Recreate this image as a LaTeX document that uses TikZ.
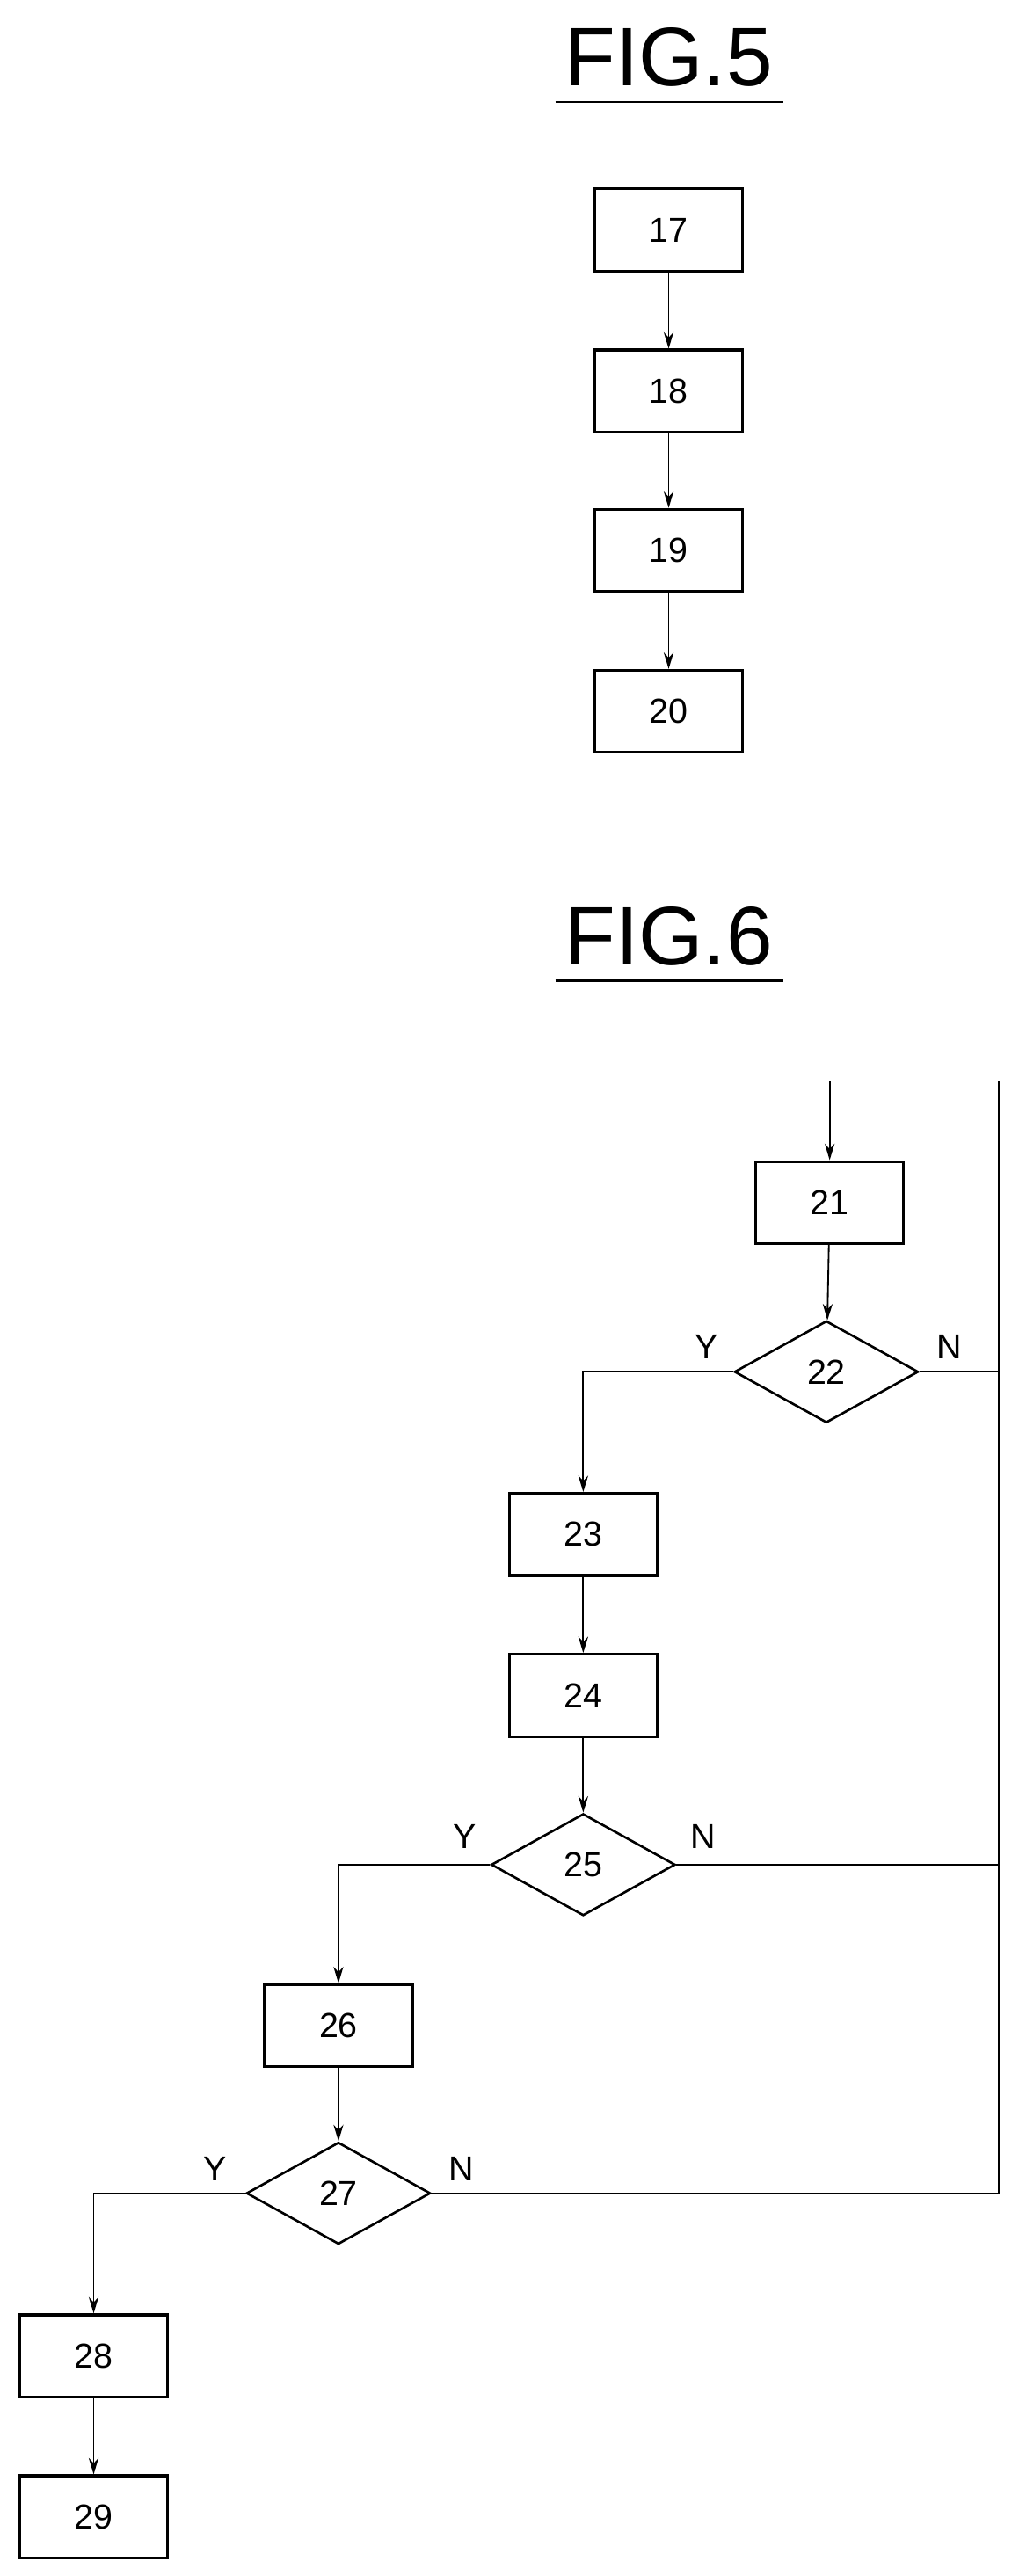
\documentclass[tikz,border=0pt]{standalone}
\usepackage{fontspec}
\setmainfont{Liberation Sans}
\usetikzlibrary{shapes.geometric,positioning,arrows.meta}

\tikzset{
	stepbox/.style={draw, line width=2.4pt, minimum width=4.5cm, minimum height=2.5cm, inner sep=0pt, font=\fontsize{30}{30}\selectfont},
	test/.style={draw, diamond, line width=2pt, aspect=1.8, minimum width=5.6cm, minimum height=3.1cm, inner sep=0pt, font=\fontsize{30}{30}\selectfont},
	link/.style={line width=1.4pt},
	arr/.style={link, -{Stealth[length=0.5cm, width=0.3cm]}},
	yn/.style={font=\fontsize{30}{30}\selectfont},
	title/.style={font=\fontsize{72}{72}\selectfont}
}

\begin{document}
\begin{tikzpicture}[x=0.05cm, y=-0.05cm]
	\useasboundingbox (0,0) rectangle (620,1568);

	% FIG.5
	\node[title] (fig5) at (407,35) {FIG.5};
	\draw[line width=2pt] (338,62) -- (477,62);
	\node[stepbox] (s17) at (407,140) {17};
	\node[stepbox] (s18) at (407,238) {18};
	\node[stepbox] (s19) at (407,335) {19};
	\node[stepbox] (s20) at (407,433) {20};
	\draw[arr] (s17) -- (s18);
	\draw[arr] (s18) -- (s19);
	\draw[arr] (s19) -- (s20);

	% FIG.6
	\node[title] (fig6) at (407,570) {FIG.6};
	\draw[line width=2pt] (338,597) -- (477,597);

	\node[stepbox] (s21) at (505,732) {21};
	\node[test] (d22) at (503,835) {22};
	\node[stepbox] (s23) at (355,934) {23};
	\node[stepbox] (s24) at (355,1032) {24};
	\node[test] (d25) at (355,1135) {25};
	\node[stepbox] (s26) at (206,1233) {26};
	\node[test] (d27) at (206,1335) {27};
	\node[stepbox] (s28) at (57,1434) {28};
	\node[stepbox] (s29) at (57,1532) {29};

	\coordinate (loopTR) at (608,658);
	\coordinate (loopTL) at (505,658);
	\coordinate (back22) at (608,835);
	\coordinate (back25) at (608,1135);
	\coordinate (back27) at (608,1335);

	\draw[arr] (s21) -- (d22);
	\draw[arr] (d22.west) -| (s23.north);
	\draw[arr] (s23) -- (s24);
	\draw[arr] (s24) -- (d25);
	\draw[arr] (d25.west) -| (s26.north);
	\draw[arr] (s26) -- (d27);
	\draw[arr] (d27.west) -| (s28.north);
	\draw[arr] (s28) -- (s29);

	\draw[link] (d22.east) -- (back22);
	\draw[link] (d25.east) -- (back25);
	\draw[link] (d27.east) -- (back27);
	\draw[link] (back27) -- (loopTR) -- (loopTL);
	\draw[arr] (loopTL) -- (s21.north);

	\node[yn] (y22) at (430,820) {Y};
	\node[yn] (n22) at (578,820) {N};
	\node[yn] (y25) at (283,1118) {Y};
	\node[yn] (n25) at (428,1118) {N};
	\node[yn] (y27) at (131,1320) {Y};
	\node[yn] (n27) at (281,1320) {N};
\end{tikzpicture}
\end{document}
